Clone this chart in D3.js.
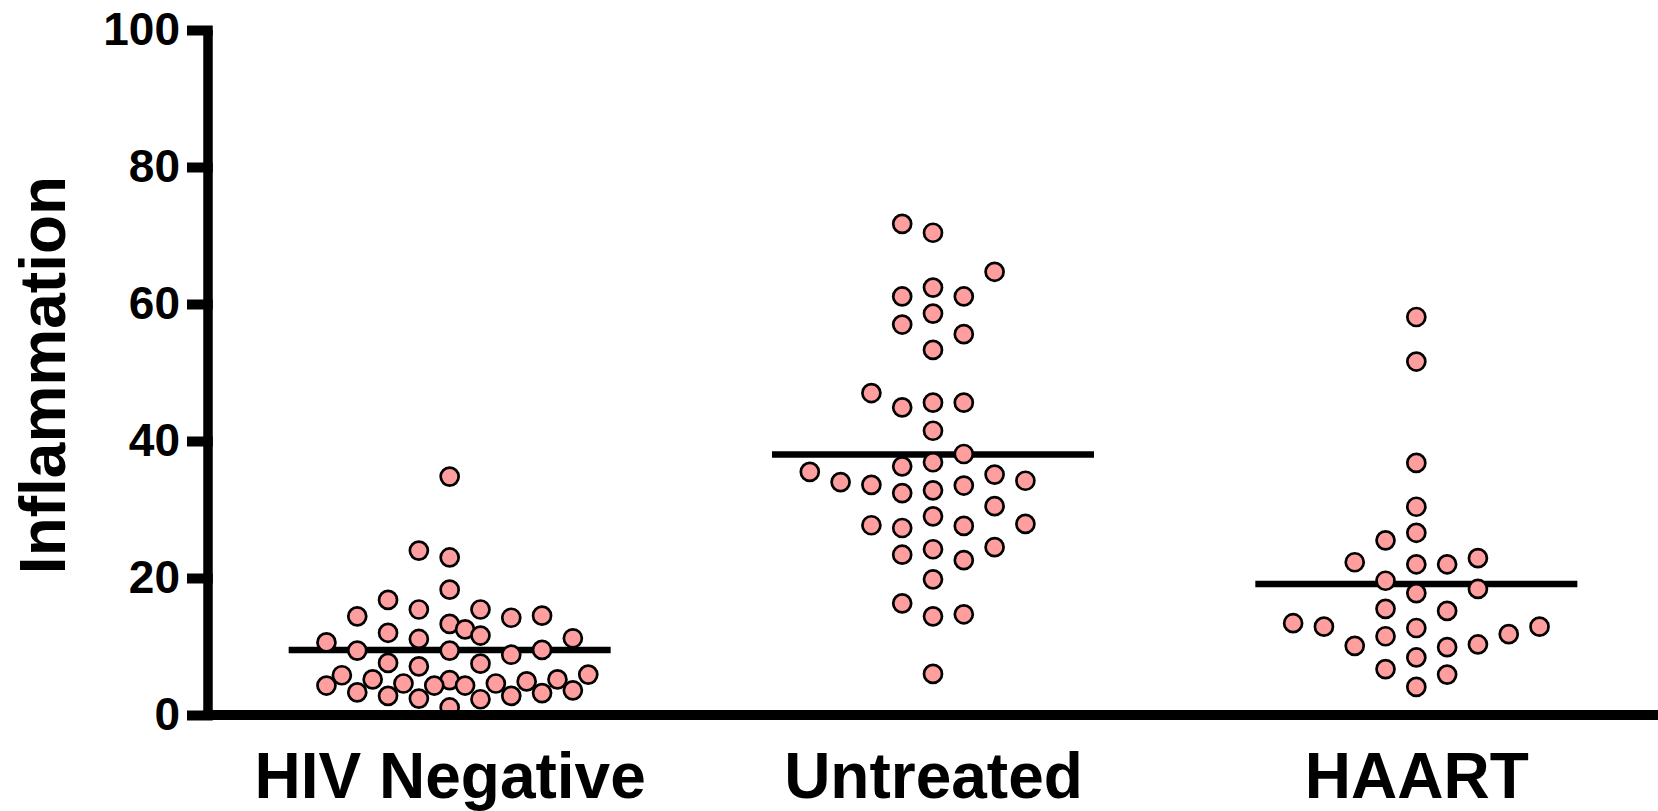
<!DOCTYPE html>
<html>
<head>
<meta charset="utf-8">
<script src="https://cdn.jsdelivr.net/npm/d3@7"></script>
<style>
  html, body { margin: 0; padding: 0; background: #fff; }
  svg { display: block; }
  text { font-family: "Liberation Sans", Arial, sans-serif; font-weight: bold; fill: #000; }
</style>
</head>
<body>
<svg id="chart" width="1658" height="811"></svg>
<script>
const categories = ["HIV Negative", "Untreated", "HAART"];

const hivNegative = [34.8, 24.0, 23.0, 18.3, 16.8, 15.4, 15.4, 14.5, 14.4, 14.2, 13.3, 12.5, 12.0,
  11.6, 11.2, 11.1, 10.6, 9.5, 9.4, 9.4, 8.8, 7.6, 7.5, 7.1, 5.9, 5.8, 5.2, 5.2, 5.1, 4.9,
  4.6, 4.6, 4.3, 4.3, 4.3, 3.6, 3.3, 3.2, 2.8, 2.8, 2.4, 2.3, 1.1];

const untreated = [71.7, 70.4, 64.7, 62.4, 61.1, 61.1, 58.6, 57.0, 55.6, 53.3, 47.0, 45.6, 45.6,
  44.9, 41.5, 38.1, 36.9, 36.3, 35.5, 35.1, 34.2, 34.0, 33.6, 33.5, 32.8, 32.4, 30.5, 29.0,
  27.9, 27.7, 27.6, 27.3, 24.5, 24.2, 23.4, 22.6, 19.8, 16.3, 14.7, 14.4, 6.0];

const haart = [58.1, 51.6, 36.8, 30.4, 26.6, 25.5, 22.9, 22.3, 22.0, 22.0, 19.6, 18.4, 17.8,
  15.5, 15.2, 13.4, 12.9, 12.9, 12.7, 11.8, 11.5, 10.3, 10.1, 9.9, 8.4, 6.7, 5.9, 4.1];

const yTicks = [0, 20, 40, 60, 80, 100];
const yTitle = "Inflammation";

const groups = [hivNegative, untreated, haart];

(function () {
const svg = d3.select("#chart");
const W = 1658;
const padLeft = 208, plotBottom = 715, plotTop = 30;

const y = d3.scaleLinear().domain([0, 100]).range([plotBottom, plotTop]);
const x = d3.scalePoint().domain(categories).range([padLeft, W]).padding(0.5);

const dotR = 9;
const dotStroke = 2.7;
const halfStep = 15.4;     // half of the column spacing
const sameColGap = 26;     // min vertical gap within one column (px)
const nextColGap = 5;      // min vertical gap to a half-step neighbour (px)
const maxFullCols = 4;     // full columns tried before interleaving half steps

// candidate slots, in half-step units
const slotOrder = [0];
for (let k = 1; k <= maxFullCols; k++) slotOrder.push(2 * k);
for (let k = 0; k < maxFullCols; k++) slotOrder.push(2 * k + 1);
for (let k = 2 * maxFullCols + 1; k < 40; k++) slotOrder.push(k);

function swarm(values) {
  const order = d3.range(values.length).sort((a, b) => values[a] - values[b]);
  const placed = [];
  const offs = new Array(values.length);
  for (const i of order) {
    const py = y(values[i]);
    const rightCount = placed.filter(p => p.s > 0).length;
    const leftCount = placed.filter(p => p.s < 0).length;
    const sign = rightCount <= leftCount ? 1 : -1;
    let chosen = null;
    for (const a of slotOrder) {
      const cands = a === 0 ? [0] : [sign * a, -sign * a];
      for (const s of cands) {
        const ok = placed.every(p => {
          const d = Math.abs(p.s - s);
          const dy = Math.abs(p.y - py);
          if (d === 0) return dy >= sameColGap;
          if (d === 1) return dy >= nextColGap;
          return true;
        });
        if (ok) { chosen = s; break; }
      }
      if (chosen !== null) break;
    }
    placed.push({s: chosen, y: py});
    offs[i] = chosen * halfStep;
  }
  return offs;
}

// mean lines
const meanHalf = 161;
groups.forEach((vals, gi) => {
  const cx = x(categories[gi]);
  const m = d3.mean(vals);
  svg.append("line")
    .attr("x1", cx - meanHalf).attr("x2", cx + meanHalf)
    .attr("y1", y(m)).attr("y2", y(m))
    .attr("stroke", "#000").attr("stroke-width", 6.5);
});

// dots
groups.forEach((vals, gi) => {
  const cx = x(categories[gi]);
  const offs = swarm(vals);
  svg.append("g").selectAll("circle")
    .data(vals)
    .join("circle")
    .attr("cx", (d, i) => cx + offs[i])
    .attr("cy", d => y(d))
    .attr("r", dotR)
    .attr("fill", "#ff9e9e")
    .attr("stroke", "#000")
    .attr("stroke-width", dotStroke);
});

// y axis
const yAxis = svg.append("g")
  .attr("transform", `translate(${padLeft},0)`)
  .call(d3.axisLeft(y).tickValues(yTicks).tickSize(21).tickSizeOuter(0).tickPadding(7));
yAxis.select(".domain").attr("stroke", "#000").attr("stroke-width", 9.5)
  .attr("d", `M0,${plotTop}V${plotBottom}`);
yAxis.selectAll(".tick line").attr("stroke", "#000").attr("stroke-width", 10).attr("x2", -21).attr("x1", 4.75);
yAxis.selectAll(".tick text").attr("font-size", 46).attr("font-weight", "bold")
  .attr("font-family", "Liberation Sans, Arial, sans-serif");

// x axis
const xAxis = svg.append("g")
  .attr("transform", `translate(0,${plotBottom})`)
  .call(d3.axisBottom(x).tickSize(0).tickSizeOuter(0));
xAxis.select(".domain").attr("stroke", "#000").attr("stroke-width", 10)
  .attr("d", `M${padLeft - 4.75},0H${W}`);
xAxis.selectAll(".tick text").attr("font-size", 64).attr("font-weight", "bold")
  .attr("font-family", "Liberation Sans, Arial, sans-serif")
  .attr("y", 83).attr("dy", 0);

// y title
svg.append("text")
  .attr("transform", `translate(65,375) rotate(-90)`)
  .attr("text-anchor", "middle")
  .attr("font-size", 64)
  .text(yTitle);
})();
</script>
</body>
</html>
